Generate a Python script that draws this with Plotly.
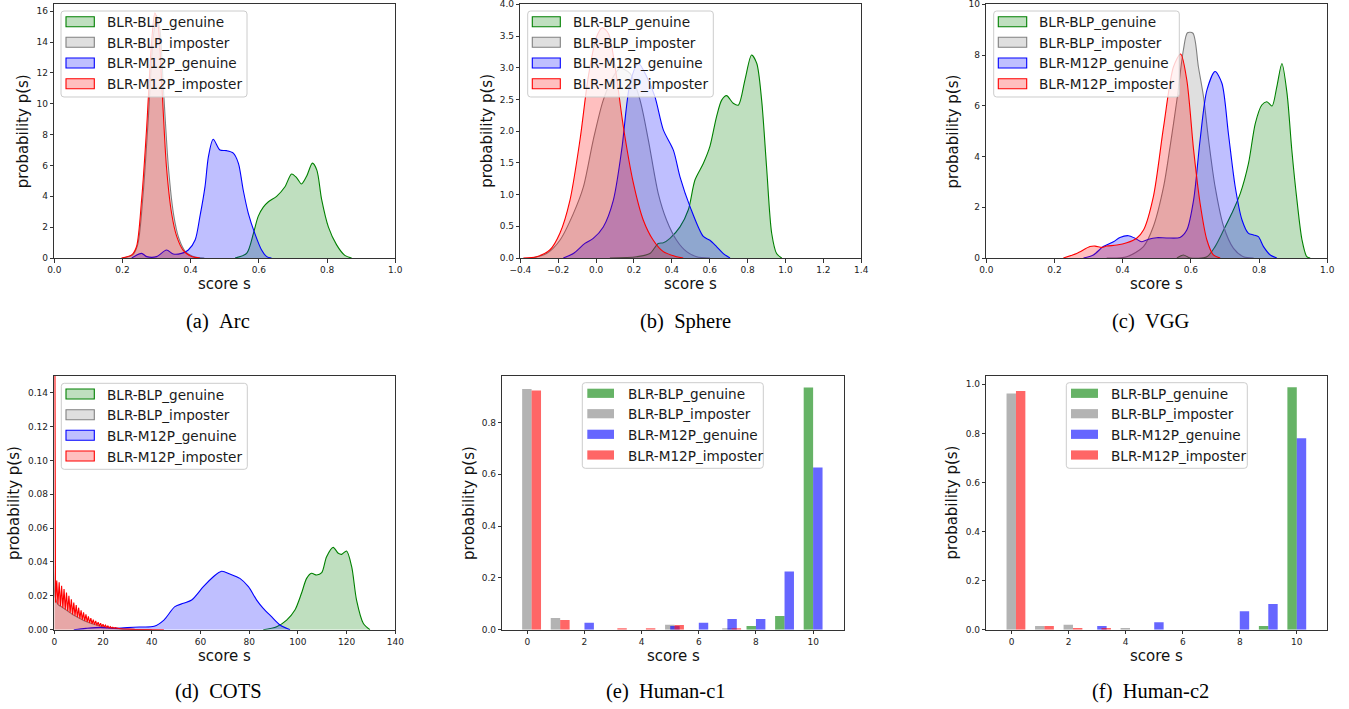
import plotly.graph_objects as go

W, H = 1349, 709

# ---------------- data: (a) Arc ----------------
arc_blp_gen_x = [0.53, 0.564, 0.584, 0.598, 0.613, 0.628, 0.652, 0.676, 0.696, 0.711, 0.725, 0.740, 0.757, 0.770, 0.784, 0.804, 0.828, 0.852, 0.872]
arc_blp_gen_y = [0, 0.3, 1.6, 2.7, 3.3, 3.65, 4.0, 4.6, 5.45, 5.2, 4.8, 5.3, 6.15, 5.7, 3.8, 2.0, 0.85, 0.17, 0]
arc_blp_imp_x = [0.20, 0.23, 0.245, 0.26, 0.275, 0.29, 0.30, 0.31, 0.32, 0.335, 0.35, 0.365, 0.385, 0.41, 0.44]
arc_blp_imp_y = [0, 0.2, 0.9, 4.0, 8.8, 14.2, 15.7, 14.8, 11.0, 5.8, 2.8, 1.3, 0.4, 0.08, 0]
arc_m12p_gen_x = [0.227, 0.256, 0.271, 0.300, 0.329, 0.349, 0.373, 0.393, 0.413, 0.427, 0.442, 0.452, 0.466, 0.486, 0.505, 0.525, 0.540, 0.554, 0.569, 0.588, 0.608, 0.623, 0.637]
arc_m12p_gen_y = [0, 0.3, 0.09, 0.09, 0.52, 0.26, 0.3, 0.52, 1.17, 2.68, 4.63, 6.57, 7.7, 7.0, 6.96, 6.8, 6.14, 4.41, 2.9, 1.6, 0.52, 0.09, 0]
arc_m12p_imp_x = [0.197, 0.227, 0.241, 0.256, 0.271, 0.285, 0.295, 0.305, 0.315, 0.329, 0.344, 0.359, 0.378, 0.403, 0.427]
arc_m12p_imp_y = [0, 0.2, 0.73, 3.76, 8.5, 13.9, 15.9, 15.0, 11.35, 5.9, 2.9, 1.4, 0.5, 0.09, 0]

# ---------------- data: (b) Sphere ----------------
sph_blp_gen_x = [0.073, 0.214, 0.284, 0.328, 0.355, 0.390, 0.443, 0.487, 0.522, 0.566, 0.601, 0.636, 0.663, 0.689, 0.724, 0.751, 0.786, 0.821, 0.848, 0.874, 0.900, 0.927, 0.953, 0.980]
sph_blp_gen_y = [0, 0.02, 0.07, 0.23, 0.24, 0.31, 0.49, 0.76, 1.23, 1.49, 1.76, 2.23, 2.49, 2.56, 2.44, 2.41, 2.81, 3.2, 3.07, 2.49, 1.44, 0.39, 0.07, 0]
sph_blp_imp_x = [-0.34, -0.261, -0.191, -0.12, -0.067, -0.015, 0.038, 0.091, 0.126, 0.179, 0.232, 0.276, 0.328, 0.372, 0.425, 0.478, 0.531, 0.601]
sph_blp_imp_y = [0, 0.07, 0.28, 0.70, 1.12, 1.86, 2.49, 2.86, 2.99, 2.91, 2.49, 1.86, 1.02, 0.6, 0.28, 0.10, 0.02, 0]
sph_m12p_gen_x = [-0.173, -0.12, -0.059, -0.015, 0.038, 0.091, 0.135, 0.179, 0.223, 0.267, 0.311, 0.355, 0.408, 0.443, 0.496, 0.566, 0.601, 0.636, 0.672, 0.707]
sph_m12p_gen_y = [0, 0.07, 0.23, 0.31, 0.49, 0.91, 1.70, 2.75, 3.07, 2.86, 2.54, 2.02, 1.70, 1.28, 0.81, 0.34, 0.28, 0.18, 0.07, 0]
sph_m12p_imp_x = [-0.384, -0.314, -0.243, -0.191, -0.138, -0.085, -0.041, 0.003, 0.033, 0.065, 0.10, 0.144, 0.197, 0.249, 0.302, 0.355, 0.425, 0.46]
sph_m12p_imp_y = [0, 0.02, 0.13, 0.39, 0.91, 1.86, 2.86, 3.49, 3.63, 3.54, 3.02, 2.07, 1.18, 0.60, 0.28, 0.10, 0.02, 0]

# ---------------- data: (c) VGG ----------------
vgg_blp_gen_x = [0.559, 0.578, 0.598, 0.647, 0.671, 0.696, 0.72, 0.745, 0.769, 0.789, 0.808, 0.823, 0.838, 0.852, 0.867, 0.882, 0.896, 0.911, 0.926, 0.94, 0.95]
vgg_blp_gen_y = [0, 0.12, 0, 0.05, 0.45, 1.1, 1.76, 2.55, 3.73, 5.31, 6.03, 6.16, 5.99, 6.75, 7.67, 6.49, 4.26, 2.29, 0.71, 0.05, 0]
vgg_blp_imp_x = [0.353, 0.412, 0.461, 0.49, 0.52, 0.539, 0.559, 0.578, 0.59, 0.606, 0.622, 0.637, 0.652, 0.671, 0.696, 0.725, 0.754, 0.784]
vgg_blp_imp_y = [0, 0.05, 0.45, 1.24, 2.81, 4.39, 6.23, 8.2, 8.88, 8.86, 7.54, 6.36, 4.65, 2.81, 1.24, 0.38, 0.05, 0]
vgg_m12p_gen_x = [0.285, 0.314, 0.343, 0.373, 0.392, 0.417, 0.436, 0.456, 0.476, 0.5, 0.529, 0.568, 0.588, 0.608, 0.627, 0.647, 0.671, 0.691, 0.71, 0.73, 0.75, 0.769, 0.784, 0.798, 0.813, 0.833, 0.852]
vgg_m12p_gen_y = [0, 0.12, 0.45, 0.64, 0.81, 0.88, 0.78, 0.64, 0.74, 0.80, 0.79, 0.81, 1.1, 2.29, 4.65, 6.62, 7.35, 6.89, 4.91, 2.81, 1.5, 0.97, 0.91, 0.84, 0.45, 0.12, 0]
vgg_m12p_imp_x = [0.226, 0.265, 0.304, 0.319, 0.339, 0.353, 0.383, 0.412, 0.441, 0.461, 0.49, 0.52, 0.549, 0.57, 0.588, 0.608, 0.627, 0.647, 0.666, 0.686]
vgg_m12p_imp_y = [0, 0.18, 0.45, 0.47, 0.42, 0.47, 0.51, 0.6, 0.78, 1.1, 2.42, 5.18, 7.54, 8.04, 7.02, 4.26, 2.16, 0.71, 0.12, 0]

# ---------------- data: (d) COTS ----------------
cots_blp_gen_x = [85.8, 91.3, 95.4, 98.8, 101.5, 103.6, 105.6, 107.7, 109.8, 111.8, 114.5, 116.6, 118.0, 120.0, 122.1, 124.1, 126.9, 129.6]
cots_blp_gen_y = [0, 0.0018, 0.0057, 0.0116, 0.0215, 0.0303, 0.0333, 0.0323, 0.0337, 0.0431, 0.0486, 0.0451, 0.0445, 0.0465, 0.0372, 0.0175, 0.0037, 0]
cots_blp_imp_x = [0, 0.3, 1.5, 3.5, 5.5, 7.5, 9.5, 12.5, 15.5, 19.5, 24.5, 30, 40]
cots_blp_imp_y = [0.3, 0.02, 0.015, 0.013, 0.011, 0.009, 0.0074, 0.0052, 0.0035, 0.0019, 0.0008, 0.0003, 0]
cots_m12p_gen_x = [8, 13, 19, 25, 30, 35, 41, 45, 49.5, 53, 56.4, 61.2, 65.3, 68.7, 72.1, 76.2, 79.7, 83.1, 85.8, 89.2, 92.7, 96.8]
cots_m12p_gen_y = [0, 0.0008, 0.0014, 0.0008, 0.0012, 0.0016, 0.002, 0.0057, 0.0136, 0.0156, 0.0175, 0.0254, 0.0313, 0.0345, 0.0329, 0.0303, 0.0254, 0.0175, 0.0126, 0.0077, 0.0028, 0]
cots_m12p_imp_x = [0, 0.2, 0.5, 1, 1.5, 2, 2.5, 3, 3.5, 4, 4.5, 5, 5.5, 6, 6.5, 7, 7.5, 8, 8.5, 9, 9.5, 10, 10.5,
                   11, 11.5, 12, 12.5, 13, 13.5, 14, 14.5, 15, 15.5, 16, 16.5, 17, 17.5, 18, 18.5, 19, 19.5, 20, 20.5,
                   21, 21.5, 22, 22.5, 23, 23.5, 24, 24.5, 25, 26, 27, 28, 30, 33, 38, 45]
cots_m12p_imp_y = [0.30, 0.03, 0.016, 0.029, 0.015, 0.028, 0.014, 0.026, 0.013, 0.024, 0.012, 0.022, 0.011, 0.020, 0.010,
                   0.018, 0.009, 0.016, 0.0082, 0.0145, 0.0074, 0.013, 0.0066, 0.0115, 0.0059, 0.0102, 0.0052, 0.009, 0.0046,
                   0.0079, 0.004, 0.0069, 0.0035, 0.006, 0.003, 0.0052, 0.0026, 0.0045, 0.0022, 0.0038, 0.0019, 0.0032, 0.0016,
                   0.0027, 0.0013, 0.0022, 0.0011, 0.0018, 0.0009, 0.0015, 0.0008, 0.0012, 0.0008, 0.0006, 0.0005, 0.0003,
                   0.0002, 0.0001, 0]

# ---------------- data: (e) Human-c1, (f) Human-c2 ----------------
scores = [0, 1, 2, 3, 4, 5, 6, 7, 8, 9, 10]
c1_blp_gen = [0, 0, 0, 0, 0, 0, 0, 0, 0.014, 0.053, 0.934]
c1_blp_imp = [0.929, 0.045, 0, 0, 0, 0.019, 0, 0.006, 0, 0, 0]
c1_m12p_gen = [0, 0, 0.027, 0, 0, 0.014, 0.027, 0.041, 0.041, 0.225, 0.626]
c1_m12p_imp = [0.923, 0.037, 0, 0.006, 0.006, 0.018, 0, 0.006, 0, 0, 0]
c2_blp_gen = [0, 0, 0, 0, 0, 0, 0, 0, 0, 0.015, 0.988]
c2_blp_imp = [0.962, 0.015, 0.020, 0, 0.007, 0, 0, 0, 0, 0, 0]
c2_m12p_gen = [0, 0, 0, 0.015, 0, 0.030, 0, 0, 0.075, 0.105, 0.780]
c2_m12p_imp = [0.973, 0.015, 0.007, 0.007, 0, 0, 0, 0, 0, 0, 0]

series_names = ["BLR-BLP_genuine", "BLR-BLP_imposter", "BLR-M12P_genuine", "BLR-M12P_imposter"]
captions = ["(a)\u00a0\u00a0Arc", "(b)\u00a0\u00a0Sphere", "(c)\u00a0\u00a0VGG",
            "(d)\u00a0\u00a0COTS", "(e)\u00a0\u00a0Human-c1", "(f)\u00a0\u00a0Human-c2"]

# ---------------- styling ----------------
RGB = [(0, 128, 0), (128, 128, 128), (0, 0, 255), (255, 0, 0)]
def rgba(c, a):
    return "rgba(%d,%d,%d,%s)" % (c[0], c[1], c[2], a)

FONT = "DejaVu Sans"
AX = "#333333"

def px(x):
    return x / W
def py(y):
    return 1 - y / H

fig = go.Figure()

# panel plot areas in pixels: (left, top, right, bottom)
areas = [
    (54.3, 4.3, 395.3, 258.0),
    (520.3, 4.3, 861.3, 258.0),
    (986.3, 4.3, 1327.3, 258.0),
    (54.3, 375.7, 395.3, 629.7),
    (502.3, 375.7, 843.7, 629.7),
    (986.3, 375.7, 1327.3, 629.7),
]
xranges = [[0, 1.0001], [-0.4, 1.4001], [0, 1.0001], [0, 140.01], [-0.875, 11.07], [-0.89, 11.07]]
yranges = [[0, 16.45], [0, 4.0002], [0, 10.001], [0, 0.15], [0, 0.98], [0, 1.035]]
xticks = [
    ([0, 0.2, 0.4, 0.6, 0.8, 1.0], ".1f"),
    ([-0.4, -0.2, 0, 0.2, 0.4, 0.6, 0.8, 1.0, 1.2, 1.4], ".1f"),
    ([0, 0.2, 0.4, 0.6, 0.8, 1.0], ".1f"),
    ([0, 20, 40, 60, 80, 100, 120, 140], "d"),
    ([0, 2, 4, 6, 8, 10], "d"),
    ([0, 2, 4, 6, 8, 10], "d"),
]
yticks = [
    ([0, 2, 4, 6, 8, 10, 12, 14, 16], "d"),
    ([0, 0.5, 1.0, 1.5, 2.0, 2.5, 3.0, 3.5, 4.0], ".1f"),
    ([0, 2, 4, 6, 8, 10], "d"),
    ([0, 0.02, 0.04, 0.06, 0.08, 0.10, 0.12, 0.14], ".2f"),
    ([0, 0.2, 0.4, 0.6, 0.8], ".1f"),
    ([0, 0.2, 0.4, 0.6, 0.8, 1.0], ".1f"),
]

layout_axes = {}
for i, (l, t, r, b) in enumerate(areas):
    n = "" if i == 0 else str(i + 1)
    common = dict(
        showline=True, mirror=True, linecolor=AX, linewidth=1,
        ticks="outside", ticklen=3.5, tickwidth=0.8, tickcolor=AX,
        showgrid=False, zeroline=False, automargin=False,
        ticklabeloverflow="allow",
        tickfont=dict(family=FONT, size=9, color="#222222"),
    )
    layout_axes["xaxis" + n] = dict(
        domain=[px(l), px(r)], anchor="y" + n, range=xranges[i],
        tickvals=xticks[i][0], tickformat=xticks[i][1], **common)
    layout_axes["yaxis" + n] = dict(
        domain=[py(b), py(t)], anchor="x" + n, range=yranges[i],
        tickvals=yticks[i][0], tickformat=yticks[i][1], **common)

kde_panels = [
    [(arc_blp_gen_x, arc_blp_gen_y), (arc_blp_imp_x, arc_blp_imp_y), (arc_m12p_gen_x, arc_m12p_gen_y), (arc_m12p_imp_x, arc_m12p_imp_y)],
    [(sph_blp_gen_x, sph_blp_gen_y), (sph_blp_imp_x, sph_blp_imp_y), (sph_m12p_gen_x, sph_m12p_gen_y), (sph_m12p_imp_x, sph_m12p_imp_y)],
    [(vgg_blp_gen_x, vgg_blp_gen_y), (vgg_blp_imp_x, vgg_blp_imp_y), (vgg_m12p_gen_x, vgg_m12p_gen_y), (vgg_m12p_imp_x, vgg_m12p_imp_y)],
    [(cots_blp_gen_x, cots_blp_gen_y), (cots_blp_imp_x, cots_blp_imp_y), (cots_m12p_gen_x, cots_m12p_gen_y), (cots_m12p_imp_x, cots_m12p_imp_y)],
]

for p, panel in enumerate(kde_panels):
    n = "" if p == 0 else str(p + 1)
    for k, (xs, ys) in enumerate(panel):
        zig = (p == 3 and k == 3)
        fig.add_trace(go.Scatter(
            x=xs, y=ys, mode="lines", name=series_names[k], showlegend=False,
            line=dict(color=rgba(RGB[k], 1), width=1.1,
                      shape="linear" if zig else "spline", smoothing=0.8),
            fill="tozeroy", fillcolor=rgba(RGB[k], 0.25),
            xaxis="x" + n, yaxis="y" + n, hoverinfo="skip",
        ))

bar_panels = [
    (4, [c1_blp_gen, c1_blp_imp, c1_m12p_gen, c1_m12p_imp]),
    (5, [c2_blp_gen, c2_blp_imp, c2_m12p_gen, c2_m12p_imp]),
]
bar_offsets = [-0.33, -0.18, 0.0, 0.15]
for p, vals in bar_panels:
    n = str(p + 1)
    for k, v in enumerate(vals):
        fig.add_trace(go.Bar(
            x=scores, y=v, name=series_names[k], showlegend=False,
            width=0.33, offset=bar_offsets[k],
            marker=dict(color=rgba(RGB[k], 0.6), line=dict(width=0)),
            xaxis="x" + n, yaxis="y" + n, hoverinfo="skip",
        ))

shapes = []
annotations = []

def rounded_rect(x0, y0, x1, y1, r=3):
    rx, ry = r / W, r / H
    X0, X1 = px(x0), px(x1)
    Y0, Y1 = py(y0), py(y1)
    return ("M %f,%f L %f,%f Q %f,%f %f,%f L %f,%f Q %f,%f %f,%f L %f,%f Q %f,%f %f,%f L %f,%f Q %f,%f %f,%f Z" % (
        X0 + rx, Y0, X1 - rx, Y0, X1, Y0, X1, Y0 - ry, X1, Y1 + ry, X1, Y1, X1 - rx, Y1,
        X0 + rx, Y1, X0, Y1, X0, Y1 + ry, X0, Y0 - ry, X0, Y0, X0 + rx, Y0))

legends = [
    ((61, 11, 247, 97), 66, 94.3, 105, [21.7, 42.3, 63, 83.7], False),
    ((527.7, 11, 713.3, 97), 532.3, 560.3, 571, [21.7, 42.3, 63, 83.7], False),
    ((993.7, 11, 1179.3, 97), 998.3, 1026.7, 1037.3, [21.7, 42.3, 63, 83.7], False),
    ((61.3, 383.3, 247.3, 469.3), 66, 94.3, 105, [394, 414.7, 435.3, 456], False),
    ((582.3, 382.7, 763.3, 468.3), 587.3, 614, 625.7, [393.3, 413.7, 434.3, 455], True),
    ((1066.3, 382.7, 1247.3, 468.3), 1071, 1098, 1109.3, [393.3, 413.7, 434.3, 455], True),
]
for (fx0, fy0, fx1, fy1), sx0, sx1, tx, rows, is_bar in legends:
    shapes.append(dict(type="path", xref="paper", yref="paper", layer="above",
                       path=rounded_rect(fx0, fy0, fx1, fy1),
                       fillcolor="rgba(255,255,255,0.8)", line=dict(color="#cccccc", width=1)))
    for k, ry in enumerate(rows):
        if is_bar:
            shapes.append(dict(type="rect", xref="paper", yref="paper", layer="above",
                               x0=px(sx0), x1=px(sx1), y0=py(ry + 4.6), y1=py(ry - 4.6),
                               fillcolor=rgba(RGB[k], 0.6), line=dict(width=0)))
        else:
            shapes.append(dict(type="rect", xref="paper", yref="paper", layer="above",
                               x0=px(sx0), x1=px(sx1), y0=py(ry + 5), y1=py(ry - 5),
                               fillcolor=rgba(RGB[k], 0.25), line=dict(color=rgba(RGB[k], 1), width=1.1)))
        annotations.append(dict(xref="paper", yref="paper", x=px(tx), y=py(ry + 0.5),
                                xanchor="left", yanchor="middle", showarrow=False,
                                text=series_names[k],
                                font=dict(family=FONT, size=13.6, color="#1a1a1a")))

ylabel_x = [23, 486.7, 953.3, 13.3, 468.3, 951.7]
for i, (l, t, r, b) in enumerate(areas):
    cx = (l + r) / 2
    annotations.append(dict(xref="paper", yref="paper", x=px(cx), y=py(b + 26.5),
                            xanchor="center", yanchor="middle", showarrow=False,
                            text="score s", font=dict(family=FONT, size=15, color="#111111")))
    annotations.append(dict(xref="paper", yref="paper", x=px(ylabel_x[i]), y=py((t + b) / 2),
                            xanchor="center", yanchor="middle", showarrow=False, textangle=-90,
                            text="probability p(s)", font=dict(family=FONT, size=15, color="#111111")))

cap_pos = [(218, 321), (685, 321), (1150.7, 321), (218.8, 691.7), (666, 691.7), (1150.8, 691.7)]
for (cx, cy), txt in zip(cap_pos, captions):
    annotations.append(dict(xref="paper", yref="paper", x=px(cx), y=py(cy),
                            xanchor="center", yanchor="middle", showarrow=False,
                            text=txt, font=dict(family="Liberation Serif", size=20.5, color="#000000")))

fig.update_layout(
    width=W, height=H, autosize=False,
    margin=dict(l=0, r=0, t=0, b=0, pad=0, autoexpand=False),
    paper_bgcolor="white", plot_bgcolor="white",
    barmode="overlay", showlegend=False,
    shapes=shapes, annotations=annotations,
    **layout_axes,
)

fig.write_html("out.html", include_plotlyjs=True, full_html=True,
               config={"displayModeBar": False, "responsive": False},
               post_script="document.body.style.margin='0';document.body.style.overflow='hidden';")
